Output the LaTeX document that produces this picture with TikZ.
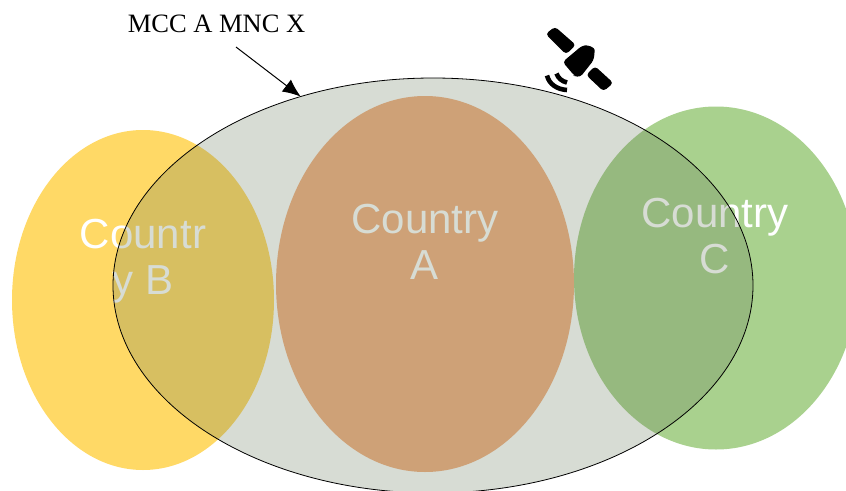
\documentclass[tikz,border=0pt]{standalone}
\usepackage{fontspec}
\setmainfont{Liberation Sans}
\newfontfamily\seriffont{Liberation Serif}
\usetikzlibrary{shapes.geometric,arrows.meta}
\definecolor{cyellow}{RGB}{255,217,102}
\definecolor{cgreen}{RGB}{169,209,142}
\definecolor{corange}{RGB}{244,177,131}
\definecolor{cveil}{RGB}{96,116,84}
\tikzset{
  land/.style={ellipse,inner sep=0pt,outer sep=0pt,draw=none},
  veil/.style={ellipse,inner sep=0pt,outer sep=0pt,draw=black,line width=0.8pt,fill=cveil,fill opacity=0.25},
  cname/.style={text=white,align=center,font=\fontsize{42}{46}\selectfont,inner sep=0pt},
  tag/.style={text=black,font=\seriffont\fontsize{26.5}{30}\selectfont,inner sep=0pt},
  pointer/.style={-{Latex[length=18pt,width=15pt]},line width=1pt,black},
  satpart/.style={fill=black,draw=black,line width=1.2pt,rounded corners=3pt},
  satwave/.style={draw=black,line width=4.6pt,line cap=butt}
}
\begin{document}
\begin{tikzpicture}[x=1pt,y=-1pt]
\useasboundingbox (0,0) rectangle (846,490);
\fill[white] (0,0) rectangle (846,490);
\node[land,fill=cyellow,minimum width=262pt,minimum height=340pt] (b) at (143,300) {};
\node[land,fill=cgreen,minimum width=284pt,minimum height=343pt] (c) at (716,278) {};
\node[land,fill=corange,minimum width=298pt,minimum height=376pt] (a) at (425,284) {};
\node[cname] (tb) at (143,261) {Countr\\y B};
\node[cname] (ta) at (425,242) {Country\\A};
\node[cname] (tc) at (715,236) {Country\\C};
\node[veil,minimum width=640pt,minimum height=415pt] (net) at (433,285.5) {};
\node[tag] (mcc) at (216.5,24) {MCC A MNC X};
\coordinate (from) at (236,47);
\draw[pointer] (from) -- (net.125.8);
% satellite
\fill[satpart] (546.5,34) -- (555,27.5) -- (575,45) -- (566,53.5) -- cycle;
\fill[satpart] (563.5,62) -- (582,46.5) .. controls (588,45.5) and (594,48) .. (594,53) -- (593,60) -- (580,76.5) -- (575,75.5) -- cycle;
\fill[satpart] (587,75) -- (595,67) -- (612.5,83) -- (603.5,90.5) -- cycle;
\draw[satwave] (547,75.5) .. controls (549,84) and (557,89.5) .. (567,90);
\draw[satwave] (556.5,73.5) .. controls (558,78) and (562,81.5) .. (567,82.5);
\end{tikzpicture}
\end{document}
